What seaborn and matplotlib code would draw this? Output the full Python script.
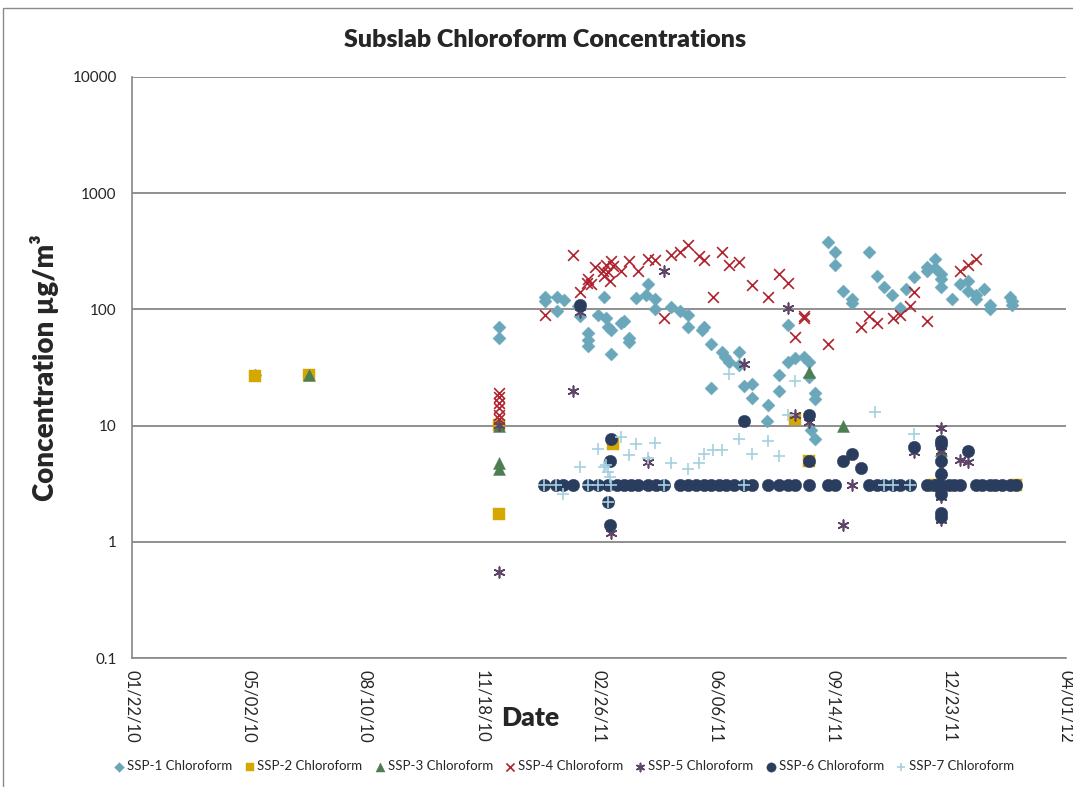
import pandas as pd
import matplotlib
matplotlib.use('Agg')
import matplotlib.pyplot as plt
import matplotlib.dates as mdates
from matplotlib.patches import Rectangle
from matplotlib.ticker import FixedLocator, FixedFormatter, NullLocator
import seaborn as sns

# ---- data (dates, concentrations in ug/m3) ----
ssp1_dates = ['2010-05-07', '2010-12-02', '2010-12-02', '2011-01-11', '2011-01-11', '2011-01-21',
              '2011-01-27', '2011-01-21', '2011-02-08', '2011-02-10', '2011-03-02', '2011-02-25',
              '2011-03-04', '2011-03-06', '2011-03-08', '2011-03-19', '2011-03-17', '2011-02-17',
              '2011-02-17', '2011-02-17', '2011-03-24', '2011-03-24', '2011-03-08', '2011-04-09',
              '2011-04-07', '2011-03-30', '2011-04-15', '2011-04-15', '2011-04-29', '2011-05-06',
              '2011-05-13', '2011-05-13', '2011-05-25', '2011-05-27', '2011-06-02', '2011-06-02',
              '2011-09-10', '2011-09-16', '2011-09-16', '2011-10-15', '2011-10-22', '2011-09-23',
              '2011-10-01', '2011-10-01', '2011-06-11', '2011-06-14', '2011-06-17', '2011-06-26',
              '2011-06-26', '2011-06-30', '2011-07-07', '2011-07-07', '2011-07-21', '2011-07-20',
              '2011-07-30', '2011-07-30', '2011-08-07', '2011-08-07', '2011-08-13', '2011-08-21',
              '2011-08-25', '2011-08-25', '2011-08-30', '2011-08-30', '2011-08-27', '2011-08-30',
              '2011-10-28', '2011-11-04', '2011-11-11', '2011-11-16', '2011-11-23', '2011-12-04',
              '2011-12-04', '2011-12-11', '2011-12-11', '2011-12-16', '2011-12-16', '2011-12-16',
              '2011-12-25', '2012-01-01', '2012-01-08', '2012-01-08', '2012-01-15', '2012-01-15',
              '2012-01-22', '2012-01-27', '2012-01-27', '2012-02-13', '2012-02-15', '2012-02-15']
ssp1_values = [27, 70, 57, 129, 117, 129,
               121, 96, 106, 87, 129, 90,
               85, 71, 67, 79, 76, 63,
               55, 48, 57, 52, 41, 164,
               134, 126, 122, 100, 104, 96,
               90, 70, 67, 70, 50, 21,
               378, 312, 243, 312, 192, 143,
               122, 113, 43, 39, 35, 43,
               33, 22, 23, 17.4, 15, 11,
               27, 20, 74, 35, 38, 39,
               35, 26, 19, 17, 9.2, 7.6,
               155, 132, 102, 149, 189, 233,
               214, 270, 229, 200, 181, 155,
               122, 164, 174, 143, 134, 122,
               149, 110, 100, 129, 117, 110]

ssp2_dates = ['2010-05-07', '2010-06-23', '2010-12-02', '2010-12-02', '2011-03-10',
              '2011-08-13', '2011-08-25', '2011-12-11', '2012-02-18']
ssp2_values = [26.5, 27, 10.2, 1.75, 6.9, 11.5, 5.0, 3.1, 3.1]

ssp3_dates = ['2010-06-23', '2010-12-02', '2010-12-02', '2010-12-02', '2011-08-25',
              '2011-09-23', '2011-12-16', '2011-12-16', '2011-12-11']
ssp3_values = [27.5, 4.8, 4.2, 10, 29, 10, 6.2, 4.2, 3.1]

ssp4_dates = ['2010-12-02', '2010-12-02', '2010-12-02', '2010-12-02', '2010-12-02', '2010-12-02',
              '2011-01-11', '2011-02-04', '2011-02-10', '2011-02-16', '2011-02-17', '2011-02-19',
              '2011-02-23', '2011-03-01', '2011-03-04', '2011-03-06', '2011-03-08', '2011-03-10',
              '2011-03-07', '2011-03-02', '2011-03-17', '2011-03-24', '2011-03-31', '2011-04-09',
              '2011-04-15', '2011-04-23', '2011-04-29', '2011-05-06', '2011-05-13', '2011-05-23',
              '2011-05-27', '2011-06-04', '2011-06-11', '2011-06-17', '2011-06-26', '2011-07-07',
              '2011-07-21', '2011-07-30', '2011-08-07', '2011-08-21', '2011-08-21', '2011-08-13',
              '2011-09-10', '2011-10-08', '2011-10-15', '2011-10-22', '2011-11-05', '2011-11-11',
              '2011-11-19', '2011-11-23', '2011-12-04', '2012-01-01', '2012-01-08', '2012-01-15']
ssp4_values = [19.2, 17.5, 15.8, 14.3, 12.4, 11.3,
               90, 292, 140, 170, 181, 164,
               230, 214, 243, 208, 260, 238,
               174, 193, 214, 260, 214, 272,
               268, 85, 296, 312, 355, 286,
               268, 129, 312, 243, 254, 161,
               129, 200, 170, 87, 84, 58,
               50, 71, 87, 77, 85, 89,
               106, 140, 80, 214, 243, 272]

ssp5_dates = ['2010-12-02', '2010-12-02', '2011-02-04', '2011-02-10', '2011-04-23', '2011-04-09',
              '2011-03-08', '2011-06-30', '2011-08-07', '2011-08-13', '2011-08-25', '2011-10-01',
              '2011-09-23', '2011-11-23', '2011-12-16', '2011-12-16', '2011-12-16', '2011-12-16',
              '2012-01-01', '2012-01-08']
ssp5_values = [0.55, 10.2, 19.7, 95, 213, 4.9,
               1.2, 34, 102, 12.4, 10.8, 3.1,
               1.4, 5.9, 9.6, 6.0, 2.45, 1.55,
               5.1, 4.9]

ssp6_dates = ['2011-01-10', '2011-01-20', '2011-01-26', '2011-02-04', '2011-02-17', '2011-02-25',
              '2011-03-06', '2011-03-13', '2011-03-19', '2011-03-25', '2011-03-31', '2011-04-09',
              '2011-04-16', '2011-04-23', '2011-05-06', '2011-05-13', '2011-05-20', '2011-05-27',
              '2011-06-02', '2011-06-09', '2011-06-15', '2011-06-22', '2011-06-30', '2011-07-07',
              '2011-07-21', '2011-07-30', '2011-08-07', '2011-08-13', '2011-08-25', '2011-09-10',
              '2011-09-16', '2011-10-15', '2011-10-22', '2011-10-28', '2011-11-05', '2011-11-11',
              '2011-11-19', '2011-12-04', '2011-12-11', '2011-12-16', '2011-12-23', '2011-12-27',
              '2012-01-01', '2012-01-15', '2012-01-20', '2012-01-27', '2012-01-31', '2012-02-06',
              '2012-02-13', '2012-02-18',
              '2011-02-10', '2011-03-08', '2011-03-07', '2011-03-06', '2011-03-07', '2011-06-30',
              '2011-08-25', '2011-08-25', '2011-09-23', '2011-10-01', '2011-10-08', '2011-11-23',
              '2011-12-16', '2011-12-16', '2011-12-16', '2011-12-16', '2011-12-16', '2011-12-16',
              '2011-12-16', '2012-01-08']
ssp6_values = [3.1, 3.1, 3.1, 3.1, 3.1, 3.1,
               3.1, 3.1, 3.1, 3.1, 3.1, 3.1,
               3.1, 3.1, 3.1, 3.1, 3.1, 3.1,
               3.1, 3.1, 3.1, 3.1, 3.1, 3.1,
               3.1, 3.1, 3.1, 3.1, 3.1, 3.1,
               3.1, 3.1, 3.1, 3.1, 3.1, 3.1,
               3.1, 3.1, 3.1, 3.1, 3.1, 3.1,
               3.1, 3.1, 3.1, 3.1, 3.1, 3.1,
               3.1, 3.1,
               110, 7.7, 5.0, 2.2, 1.4, 11,
               12.4, 5.0, 5.0, 5.7, 4.3, 6.6,
               7.4, 7.0, 5.0, 3.8, 2.6, 1.78,
               1.64, 6.1]

ssp7_dates = ['2011-01-10', '2011-01-20', '2011-01-26', '2011-02-10', '2011-02-17', '2011-02-25',
              '2011-02-25', '2011-03-02', '2011-03-06', '2011-03-07', '2011-03-08', '2011-03-06',
              '2011-03-17', '2011-03-24', '2011-03-30', '2011-04-09', '2011-04-15', '2011-04-23',
              '2011-04-29', '2011-05-13', '2011-05-23', '2011-05-27', '2011-06-04', '2011-06-11',
              '2011-06-26', '2011-06-30', '2011-07-07', '2011-07-21', '2011-07-30', '2011-08-07',
              '2011-06-17', '2011-08-13', '2011-10-20', '2011-11-23', '2011-10-28', '2011-11-05',
              '2011-11-19', '2011-03-04']
ssp7_values = [3.1, 3.1, 2.6, 4.4, 3.1, 3.1,
               6.3, 4.4, 4.0, 3.6, 3.1, 2.2,
               8.0, 5.6, 6.9, 5.3, 7.1, 3.1,
               4.8, 4.2, 4.8, 5.7, 6.2, 6.2,
               7.6, 3.1, 5.7, 7.3, 5.5, 12.4,
               28, 24, 13, 8.5, 3.1, 3.1,
               3.1, 4.6]

x_ticks = ['2010-01-22', '2010-05-02', '2010-08-10', '2010-11-18', '2011-02-26',
           '2011-06-06', '2011-09-14', '2011-12-23', '2012-04-01']
y_ticks = [0.1, 1, 10, 100, 1000, 10000]
y_tick_labels = ['0.1', '1', '10', '100', '1000', '10000']

series = [
    ('SSP-1 Chloroform', ssp1_dates, ssp1_values, 'D', '#6BA7BA', 44),
    ('SSP-2 Chloroform', ssp2_dates, ssp2_values, 's', '#D4A800', 70),
    ('SSP-3 Chloroform', ssp3_dates, ssp3_values, '^', '#4D7D52', 75),
    ('SSP-4 Chloroform', ssp4_dates, ssp4_values, 'x', '#B0222E', 60),
    ('SSP-5 Chloroform', ssp5_dates, ssp5_values, (6, 2, 0), '#5E4466', 60),
    ('SSP-6 Chloroform', ssp6_dates, ssp6_values, 'o', '#2B3D5E', 80),
    ('SSP-7 Chloroform', ssp7_dates, ssp7_values, '+', '#A6D0E0', 70),
]

sns.set_style('white')
plt.rcParams['font.family'] = ['Lato', 'DejaVu Sans']

fig = plt.figure(figsize=(10.73, 7.87), dpi=100)
ax = fig.add_axes([132 / 1073, 1 - 658 / 787, (1066 - 132) / 1073, (658 - 77) / 787])

for name, dates, vals, marker, color, size in series:
    df = pd.DataFrame({'Date': pd.to_datetime(dates), 'Value': vals})
    if marker in ('x', '+') or isinstance(marker, tuple):
        sns.scatterplot(data=df, x='Date', y='Value', marker=marker, color=color,
                        s=size, linewidth=1.2, ax=ax, label=name, legend=False)
    else:
        sns.scatterplot(data=df, x='Date', y='Value', marker=marker, color=color,
                        s=size, edgecolor=color, linewidth=0.3, ax=ax, label=name, legend=False)

ax.set_yscale('log')
ax.set_ylim(0.1, 10000)
ax.yaxis.set_major_locator(FixedLocator(y_ticks))
ax.yaxis.set_major_formatter(FixedFormatter(y_tick_labels))
ax.yaxis.set_minor_locator(NullLocator())

tick_dates = pd.to_datetime(x_ticks)
ax.set_xlim(tick_dates[0], tick_dates[-1])
ax.set_xticks(tick_dates)
ax.xaxis.set_major_formatter(mdates.DateFormatter('%m/%d/%y'))
ax.tick_params(axis='x', rotation=-90, labelsize=12, length=5, color='#888888', direction='out', pad=4)
ax.tick_params(axis='y', labelsize=11, length=5, color='#888888', direction='out', pad=6)
for lbl in ax.get_xticklabels():
    lbl.set_va('top')
    lbl.set_ha('center')

ax.grid(True, axis='y', color='#8f8f8f', linewidth=1.4)
ax.set_axisbelow(True)
for side in ['top', 'right']:
    ax.spines[side].set_visible(False)
for side in ['left', 'bottom']:
    ax.spines[side].set_color('#888888')
    ax.spines[side].set_linewidth(1.2)
ax.set_xlabel('')
ax.set_ylabel('')

fig.text(545 / 1073, 1 - 40 / 787, 'Subslab Chloroform Concentrations', ha='center', va='center',
         fontsize=18, fontweight='heavy')
fig.text(45 / 1073, 1 - 368 / 787, 'Concentration µg/m³', ha='center', va='center',
         rotation=90, fontsize=20, fontweight='heavy')
fig.text(530 / 1073, 1 - 718 / 787, 'Date', ha='center', va='center', fontsize=19, fontweight='heavy')

handles, labels = ax.get_legend_handles_labels()
fig.legend(handles, labels, loc='center', bbox_to_anchor=(564 / 1073, 1 - 766 / 787), ncol=7,
           frameon=False, fontsize=9.5, markerscale=0.75, handlelength=0.8, handletextpad=0.2,
           columnspacing=0.9)

fig.patches.append(Rectangle((3 / 1073, -0.02), 1.05, 1.02 - 8 / 787, transform=fig.transFigure,
                             fill=False, edgecolor='#8a8a8a', linewidth=1.0))

fig.savefig('out.png', dpi=100)
